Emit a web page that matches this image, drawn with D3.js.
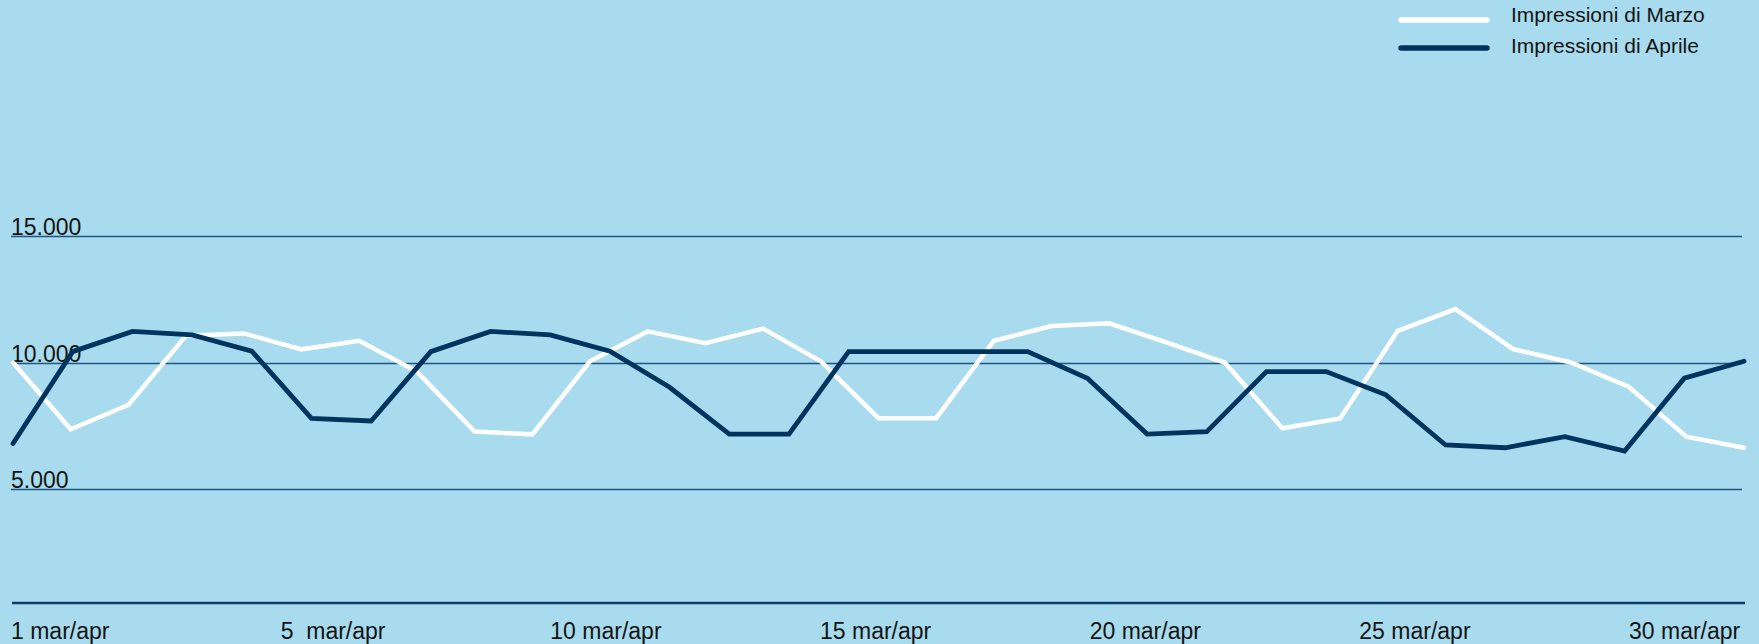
<!DOCTYPE html>
<html>
<head>
<meta charset="utf-8">
<script src="https://cdn.jsdelivr.net/npm/d3@7"></script>
<style>
  html, body { margin: 0; padding: 0; background: #a8dbed; }
  #chart svg { display: block; }
  text { font-family: "Liberation Sans", Arial, sans-serif; fill: #141414; }
</style>
</head>
<body>
<div id="chart"></div>
<script>
// impressions per day
const marzoDays = d3.range(1, 32);
const marzoValues = [10000, 7360, 8320, 11060, 11150, 10520, 10860, 9640, 7270, 7160,
  10050, 11230, 10760, 11340, 10050, 7800, 7800, 10860, 11440, 11550,
  10790, 10000, 7400, 7790, 11250, 12110, 10530, 10000, 9040, 7070, 6630];

const aprileDays = d3.range(1, 31);
const aprileValues = [6800, 10430, 11230, 11090, 10450, 7790, 7690, 10430, 11230, 11090,
  10450, 9020, 7170, 7170, 10430, 10430, 10430, 10430, 9380, 7170,
  7270, 9640, 9640, 8720, 6740, 6630, 7070, 6500, 9380, 10050];

const yTicks = [5000, 10000, 15000];
const xTickLabels = ["1 mar/apr", "5  mar/apr", "10 mar/apr", "15 mar/apr", "20 mar/apr", "25 mar/apr", "30 mar/apr"];
const seriesNames = ["Impressioni di Marzo", "Impressioni di Aprile"];

function drawImpressions(selector) {
  const width = 1759, height = 644;
  const plotLeft = 13, plotRight = 1744;
  const baseY = 603;

  const svg = d3.select(selector).append("svg")
    .attr("width", width)
    .attr("height", height);

  svg.append("rect")
    .attr("width", width)
    .attr("height", height)
    .attr("fill", "#a8dbed");

  const xM = d3.scalePoint().domain(marzoDays).range([plotLeft, plotRight]);
  const xA = d3.scalePoint().domain(aprileDays).range([plotLeft, plotRight]);
  const xLab = d3.scalePoint().domain(xTickLabels).range([11, 1629]);

  const y = d3.scaleLinear()
    .domain([5000, 15000])
    .range([489, 236]);

  const it = d3.formatLocale({ decimal: ",", thousands: ".", grouping: [3], currency: ["€", ""] });
  const fmt = it.format(",.0f");

  // grid lines + labels sitting on them
  const grid = svg.append("g").attr("class", "y-grid");
  grid.selectAll("line")
    .data(yTicks)
    .enter()
    .append("line")
    .attr("x1", 11)
    .attr("x2", 1742)
    .attr("y1", d => Math.round(y(d)) + 0.5)
    .attr("y2", d => Math.round(y(d)) + 0.5)
    .attr("stroke", "#1f5583")
    .attr("stroke-width", 1.3);

  grid.selectAll("text")
    .data(yTicks)
    .enter()
    .append("text")
    .attr("x", 11)
    .attr("y", d => y(d) - 1)
    .attr("font-size", 23)
    .text(d => fmt(d));

  // baseline
  svg.append("line")
    .attr("x1", 12)
    .attr("x2", 1745)
    .attr("y1", baseY)
    .attr("y2", baseY)
    .attr("stroke", "#0d3f6c")
    .attr("stroke-width", 2.6);

  svg.append("g")
    .attr("class", "x-labels")
    .selectAll("text")
    .data(xTickLabels)
    .enter()
    .append("text")
    .attr("x", d => xLab(d))
    .attr("y", 639)
    .attr("font-size", 23)
    .style("white-space", "pre")
    .text(d => d);

  // lines: march under april
  const lineM = d3.line().x((d, i) => xM(marzoDays[i])).y(d => y(d));
  const lineA = d3.line().x((d, i) => xA(aprileDays[i])).y(d => y(d));

  svg.append("path")
    .datum(marzoValues)
    .attr("d", lineM)
    .attr("fill", "none")
    .attr("stroke", "#ffffff")
    .attr("stroke-width", 4.5)
    .attr("stroke-linecap", "round");

  svg.append("path")
    .datum(aprileValues)
    .attr("d", lineA)
    .attr("fill", "none")
    .attr("stroke", "#00345f")
    .attr("stroke-width", 4.8)
    .attr("stroke-linecap", "round");

  // legend
  const legend = svg.append("g").attr("class", "legend");
  const legendItems = [
    { label: seriesNames[0], color: "#ffffff", ly: 20, ty: 22 },
    { label: seriesNames[1], color: "#00345f", ly: 48, ty: 53 }
  ];
  const item = legend.selectAll(".legend-item")
    .data(legendItems)
    .enter()
    .append("g")
    .attr("class", "legend-item");

  item.append("line")
    .attr("x1", 1401)
    .attr("x2", 1487)
    .attr("y1", d => d.ly)
    .attr("y2", d => d.ly)
    .attr("stroke", d => d.color)
    .attr("stroke-width", 5.5)
    .attr("stroke-linecap", "round");

  item.append("text")
    .attr("x", 1511)
    .attr("y", d => d.ty)
    .attr("font-size", 21)
    .text(d => d.label);
}

drawImpressions("#chart");
</script>
</body>
</html>
